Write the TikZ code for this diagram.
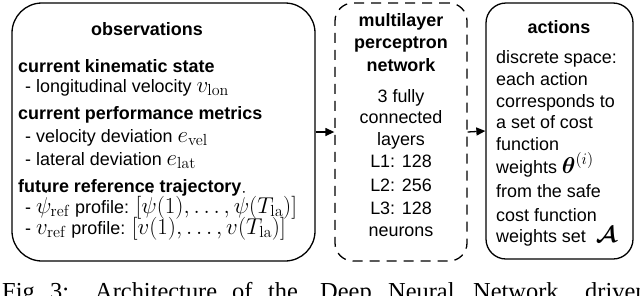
\documentclass[tikz,border=0pt]{standalone}
\usepackage{fix-cm}
\usepackage{amsmath,bm}
\usepackage[no-math]{fontspec}
\setmainfont{Liberation Sans}
\newfontfamily\capfont{Liberation Serif}
\usetikzlibrary{arrows.meta}
\newcommand{\mth}[1]{{\fontsize{23}{25}\selectfont$#1$}}
\tikzset{
  box/.style={draw, line width=1.3bp, inner sep=0pt},
  arr/.style={line width=1.3bp, -{Triangle[length=9bp,width=8bp]}},
  txt/.style={anchor=base west, inner sep=0pt, font=\fontsize{18}{22}\selectfont},
  ctr/.style={anchor=base, inner sep=0pt, font=\fontsize{18}{22}\selectfont},
  hd/.style={anchor=base west, inner sep=0pt, font=\fontsize{18}{22}\selectfont\bfseries},
  hdc/.style={anchor=base, inner sep=0pt, font=\fontsize{18}{22}\selectfont\bfseries},
  captxt/.style={anchor=base west, inner sep=0pt, font=\fontsize{24.5}{26}\capfont},
}
\begin{document}
\begin{tikzpicture}[x=1bp,y=-1bp]
\useasboundingbox (0,0) rectangle (640,295);
\clip (0,0) rectangle (640,295);
% boxes
\node[box, rounded corners=30bp, minimum width=303bp, minimum height=258bp] (obs) at (163.5,132) {};
\node[box, dash pattern=on 10bp off 7bp, rounded corners=18bp, minimum width=132bp, minimum height=258bp] (mlp) at (401,132) {};
\node[box, rounded corners=20bp, minimum width=147bp, minimum height=256bp] (act) at (559.5,131) {};
% arrows
\draw[arr] (obs.east) -- (mlp.west);
\draw[arr] (mlp.east) -- (act.west);
% observations
\node[hdc] (o0) at (147,35) {observations};
\node[hd] (o1) at (18,72) {current kinematic state};
\node[txt] (o2) at (25,92) {- longitudinal velocity \mth{v_{\mathrm{lon}}}};
\node[hd] (o3) at (18,119) {current performance metrics};
\node[txt] (o4) at (25,142) {- velocity deviation \mth{e_{\mathrm{vel}}}};
\node[txt] (o5) at (25,165) {- lateral deviation \mth{e_{\mathrm{lat}}}};
\node[hd] (o6) at (18,192) {future reference trajectory};
\node[txt] (o7) at (25,213) {- \mth{\dot\psi_{\mathrm{ref}}} profile: \mth{[\dot\psi(1),\ldots,\dot\psi(T_{\mathrm{la}})]}};
\node[txt] (o8) at (25,234) {- \mth{v_{\mathrm{ref}}} profile: \mth{[v(1),\ldots,v(T_{\mathrm{la}})]}};
% mlp
\node[hdc] (m1) at (401,26) {multilayer};
\node[hdc] (m2) at (401,48) {perceptron};
\node[hdc] (m3) at (401,71) {network};
\node[ctr] (m4) at (401,102) {3 fully};
\node[ctr] (m5) at (401,123) {connected};
\node[ctr] (m6) at (401,145) {layers};
\node[ctr] (m7) at (401,167) {L1: 128};
\node[ctr] (m8) at (401,191) {L2: 256};
\node[ctr] (m9) at (401,214) {L3: 128};
\node[ctr] (m10) at (401,236) {neurons};
% actions
\node[hdc] (a0) at (559,33.5) {actions};
\node[txt] (a1) at (496,63) {discrete space:};
\node[txt] (a2) at (496,85) {each action};
\node[txt] (a3) at (496,107) {corresponds to};
\node[txt] (a4) at (496,128) {a set of cost};
\node[txt] (a5) at (496,150) {function};
\node[txt] (a6) at (496,173) {weights \mth{\boldsymbol{\theta}^{(i)}}};
\node[txt] (a7) at (496,197) {from the safe};
\node[txt] (a8) at (496,221) {cost function};
\node[txt] (a9) at (496,242) {weights set \ \mth{\boldsymbol{\mathcal{A}}}};
% caption (cut off)
\node[captxt] (c1) at (2,299) {Fig.};
\node[captxt] (c2) at (50,299) {3:};
\node[captxt] (c3) at (95,299) {Architecture};
\node[captxt] (c4) at (232,299) {of};
\node[captxt] (c5) at (268,299) {the};
\node[captxt] (c6) at (320,299) {Deep};
\node[captxt] (c7) at (388,299) {Neural};
\node[captxt] (c8) at (473,299) {Network};
\node[captxt] (c9) at (585,299) {driven};
\end{tikzpicture}
\end{document}
